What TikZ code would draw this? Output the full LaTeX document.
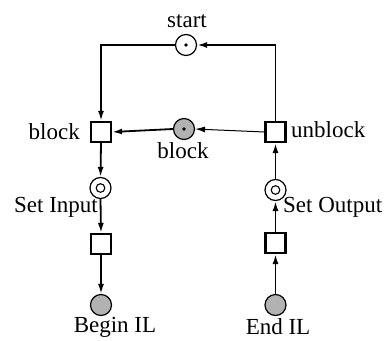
\documentclass[tikz,border=0pt]{standalone}
\usepackage{fontspec}
\setmainfont{Liberation Serif}
\usetikzlibrary{arrows.meta}
\begin{document}
\begin{tikzpicture}[x=1pt,y=-1pt,
  trans/.style={draw,line width=2.2pt,fill=white,minimum size=20pt,inner sep=0pt},
  place/.style={draw,circle,line width=1.2pt,fill=white,minimum size=21pt,inner sep=0pt},
  grayplace/.style={place,fill=black!30},
  arc/.style={line width=1.8pt,-{Latex[length=10pt,width=6pt]}},
  thinarc/.style={line width=1pt,-{Latex[length=10pt,width=6pt]}},
  lbl/.style={font=\fontsize{23}{26}\selectfont,inner sep=0pt}]
\useasboundingbox (0,0) rectangle (390,340);
\node[place] (start) at (186,45) {};
\fill (start.center) circle (1.9pt);
\node[trans] (bt) at (101,132) {};
\node[grayplace] (bp) at (184,129) {};
\fill (bp.center) circle (1.9pt);
\node[trans] (ub) at (275.5,132) {};
\node[place] (si) at (100.5,188) {};
\draw[line width=1.1pt] (si.center) circle (4.3pt);
\node[place] (so) at (275.5,190) {};
\draw[line width=1.1pt] (so.center) circle (4.3pt);
\node[trans] (lt) at (101,244) {};
\node[trans] (rt) at (275.5,243) {};
\node[grayplace] (bil) at (101,305) {};
\node[grayplace] (eil) at (275.5,305) {};
\coordinate (tl) at (101,45);
\coordinate (tr) at (275.5,45);
% connectors
\draw[arc] (start.west) -- (tl) -- (bt.north);
\draw[arc] (ub.north) -- (tr) -- (start.east);
\draw[thinarc] (ub.west) -- (bp.east);
\draw[arc] (bp.west) -- (bt.east);
\draw[arc] (bt.south) -- (si.north);
\draw[arc] (si.south) -- (lt.north);
\draw[arc] (lt.south) -- (bil.north);
\draw[arc] (eil.north) -- (rt.south);
\draw[arc] (rt.north) -- (so.south);
\draw[arc] (so.north) -- (ub.south);
% labels
\node[lbl] (lstart) at (187,21) {start};
\node[lbl,anchor=east] (lblock) at (80,132) {block};
\node[lbl] (lbp) at (183,151) {block};
\node[lbl,anchor=west] (lub) at (291,130) {unblock};
\node[lbl,anchor=east] (lsi) at (98,207) {Set Input};
\node[lbl,anchor=west] (lso) at (283,207) {Set Output};
\node[lbl] (lbil) at (115,327) {Begin IL};
\node[lbl] (leil) at (278,327) {End IL};
\end{tikzpicture}
\end{document}
